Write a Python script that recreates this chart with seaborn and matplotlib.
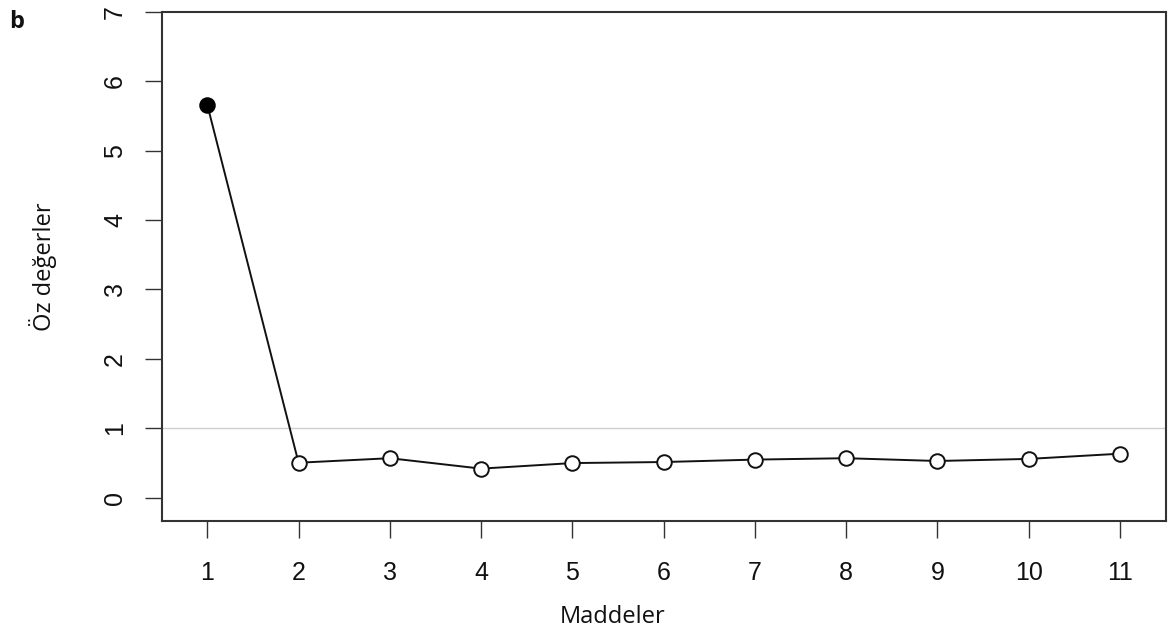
import matplotlib
matplotlib.use("Agg")
import matplotlib.pyplot as plt
import seaborn as sns
import pandas as pd

items = [1, 2, 3, 4, 5, 6, 7, 8, 9, 10, 11]
eigenvalues = [5.66, 0.505, 0.57, 0.42, 0.50, 0.515, 0.55, 0.57, 0.53, 0.56, 0.635]
y_ticks = [0, 1, 2, 3, 4, 5, 6, 7]
x_label = "Maddeler"
y_label = "Öz değerler"
panel_label = "b"

sns.set_theme(style="white")
plt.rcParams['font.family'] = ['Liberation Sans', 'DejaVu Sans']

df = pd.DataFrame({"x": items, "y": eigenvalues})
df["first"] = df["x"] == 1

fig = plt.figure(figsize=(11.68, 6.34), dpi=100)
ax = fig.add_axes([0.1384, 0.1787, 0.998 - 0.1384, 0.9815 - 0.1787])

ax.axhline(1, color="#cfcfcf", lw=1.0, zorder=1)
sns.lineplot(data=df, x="x", y="y", ax=ax, color="#111111", lw=1.4, zorder=2)
sns.scatterplot(data=df[~df["first"]], x="x", y="y", ax=ax, s=110,
                color="white", edgecolor="#111111", linewidth=1.4, zorder=3)
sns.scatterplot(data=df[df["first"]], x="x", y="y", ax=ax, s=110,
                color="black", edgecolor="black", linewidth=1.4, zorder=3)

ax.set_xlim(0.5, 11.5)
ax.set_ylim(-0.33, 7.0)
ax.set_xticks(items)
ax.set_xticklabels([str(i) for i in items])
ax.set_yticks(y_ticks)
ax.set_yticklabels([str(v) for v in y_ticks], rotation=90, va="center")

for sp in ax.spines.values():
    sp.set_visible(True)
    sp.set_color("#333333")
    sp.set_linewidth(1.5)

ax.tick_params(axis="both", which="major", direction="out", length=12, width=1.0,
               color="#333333", labelsize=18, labelcolor="#111111",
               bottom=True, left=True)
ax.tick_params(axis="x", pad=17)
ax.tick_params(axis="y", pad=13)

ax.set_xlabel(x_label, fontsize=17, family=["Open Sans", "DejaVu Sans"], color="#111111")
ax.set_ylabel(y_label, fontsize=17, family=["Open Sans", "DejaVu Sans"], color="#111111")
ax.xaxis.set_label_coords(0.4495, -0.189)
ax.xaxis.label.set_va("center")
ax.yaxis.set_label_coords(-0.118, 0.5)
ax.yaxis.label.set_va("center")

fig.text(0.008, 0.965, panel_label, fontsize=17, fontweight="bold",
         family=["Open Sans", "DejaVu Sans"], ha="left", va="center", color="#111111")

fig.savefig("out.png", dpi=100)
